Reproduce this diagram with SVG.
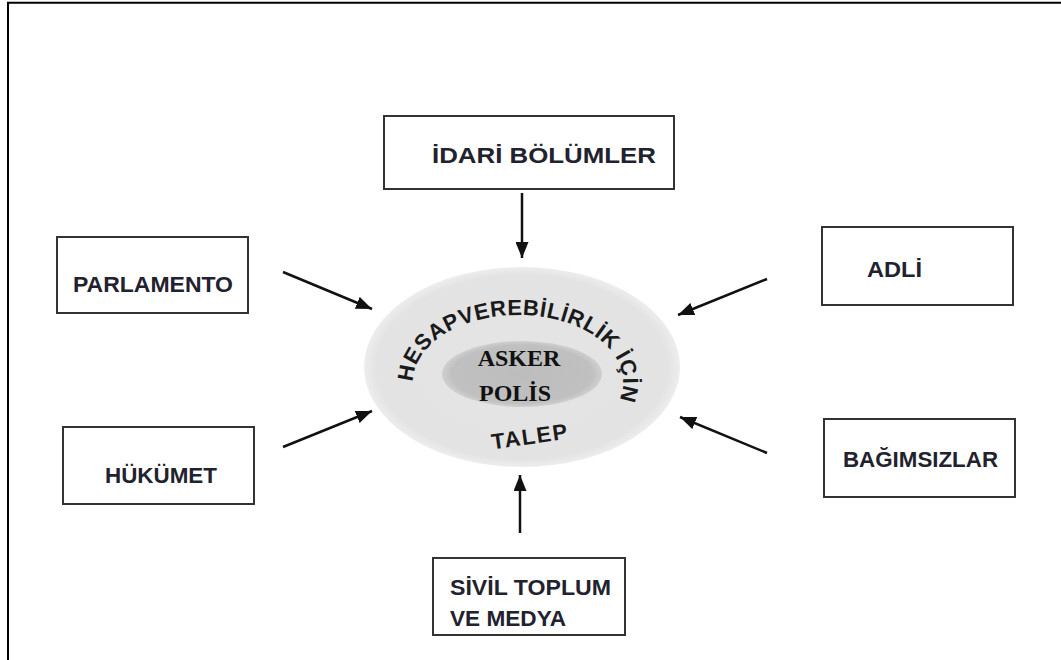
<svg xmlns="http://www.w3.org/2000/svg" width="1061" height="660" viewBox="0 0 1061 660">
  <style>
    .box { fill: #ffffff; stroke: #333333; stroke-width: 2; }
    .lbl { font-family: "Liberation Sans", Arial, sans-serif; font-weight: bold; font-size: 22px; fill: #22222e; }
    .arc { font-family: "Liberation Sans", Arial, sans-serif; font-weight: bold; font-size: 22px; fill: #1a1a1a; }
    .core { font-family: "Liberation Serif", "Times New Roman", serif; font-weight: bold; font-size: 24px; fill: #111111; text-anchor: middle; }
    .conn { stroke: #111111; stroke-width: 2.5; fill: none; marker-end: url(#ah); }
  </style>
  <defs>
    <marker id="ah" markerUnits="userSpaceOnUse" markerWidth="16" markerHeight="13" refX="16" refY="6.5" orient="auto">
      <path d="M0,0 L16,6.5 L0,13 z" fill="#111111"/>
    </marker>
    <radialGradient id="outerG" cx="50%" cy="50%" r="50%">
      <stop offset="0%" stop-color="#e5e5e5"/>
      <stop offset="92%" stop-color="#e3e3e3"/>
      <stop offset="100%" stop-color="#ededed"/>
    </radialGradient>
    <radialGradient id="innerG" cx="50%" cy="50%" r="50%">
      <stop offset="0%" stop-color="#bdbdbd"/>
      <stop offset="88%" stop-color="#c0c0c0"/>
      <stop offset="100%" stop-color="#d0d0d0"/>
    </radialGradient>
    <path id="arcPath" d="M 413 382 A 105 67 0 0 1 623 382 A 105 67 0 0 1 413 382"/>
  </defs>

  <rect x="0" y="0" width="1061" height="660" fill="#ffffff"/>
  <!-- outer frame (top and left edges visible) -->
  <path d="M 8 661 L 8 2.7 L 1062 2.7" fill="none" stroke="#000000" stroke-width="2"/>

  <g id="center">
    <ellipse cx="522" cy="367" rx="158" ry="100" fill="url(#outerG)"/>
    <ellipse cx="522" cy="374" rx="80" ry="33" fill="url(#innerG)"/>
    <text class="arc" letter-spacing="0.6"><textPath href="#arcPath" startOffset="0">HESAPVEREBİLİRLİK İÇİN</textPath></text>
    <text class="arc" x="531" y="444" text-anchor="middle" letter-spacing="1.5" transform="rotate(-8 531 444)">TALEP</text>
    <text class="core" x="519" y="366">ASKER</text>
    <text class="core" x="515" y="401">POLİS</text>
  </g>

  <g id="idari">
    <rect class="box" x="384" y="116" width="290" height="73"/>
    <text class="lbl" x="432" y="163" textLength="224" lengthAdjust="spacingAndGlyphs">İDARİ BÖLÜMLER</text>
  </g>
  <g id="parlamento">
    <rect class="box" x="57" y="237" width="191" height="76"/>
    <text class="lbl" x="73" y="292" textLength="160" lengthAdjust="spacingAndGlyphs">PARLAMENTO</text>
  </g>
  <g id="adli">
    <rect class="box" x="822" y="227" width="191" height="78"/>
    <text class="lbl" x="867" y="277" textLength="55" lengthAdjust="spacingAndGlyphs">ADLİ</text>
  </g>
  <g id="hukumet">
    <rect class="box" x="63" y="427" width="191" height="77"/>
    <text class="lbl" x="105" y="483" textLength="112" lengthAdjust="spacingAndGlyphs">HÜKÜMET</text>
  </g>
  <g id="bagimsizlar">
    <rect class="box" x="824" y="419" width="191" height="78"/>
    <text class="lbl" x="843" y="467" textLength="155" lengthAdjust="spacingAndGlyphs">BAĞIMSIZLAR</text>
  </g>
  <g id="sivil">
    <rect class="box" x="433" y="558" width="192" height="77"/>
    <text class="lbl" x="450" y="595" textLength="161" lengthAdjust="spacingAndGlyphs">SİVİL TOPLUM</text>
    <text class="lbl" x="450" y="626" textLength="116" lengthAdjust="spacingAndGlyphs">VE MEDYA</text>
  </g>

  <g id="connectors">
    <line class="conn" x1="522" y1="193" x2="522" y2="258"/>
    <line class="conn" x1="283" y1="272" x2="372" y2="309"/>
    <line class="conn" x1="767" y1="279" x2="678" y2="315"/>
    <line class="conn" x1="283" y1="447" x2="372" y2="411"/>
    <line class="conn" x1="767" y1="453" x2="680" y2="417"/>
    <line class="conn" x1="520" y1="533" x2="520" y2="475"/>
  </g>
</svg>
